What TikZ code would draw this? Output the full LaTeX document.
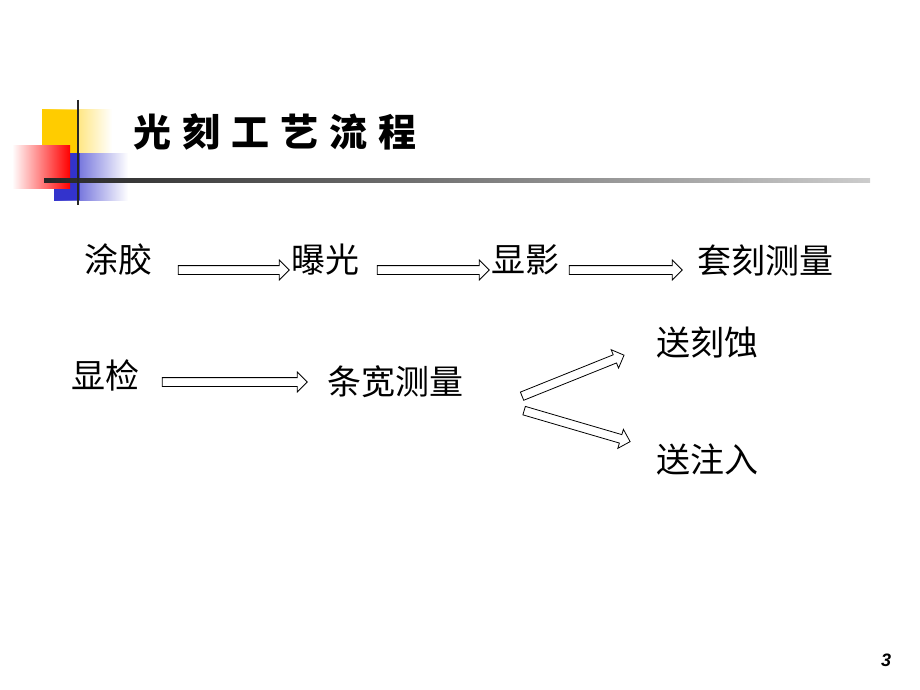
\documentclass[tikz,border=0pt]{standalone}
\usepackage{fontspec}
\setmainfont{Liberation Sans}
\newfontfamily\cjk{Noto Sans CJK SC}
\newfontfamily\cjkb{Noto Sans CJK SC Black}
\usetikzlibrary{shapes.arrows,calc}
\definecolor{gold}{RGB}{255,204,0}
\definecolor{lblue}{RGB}{51,51,204}
\tikzset{
  x=1pt,y=-1pt,
  lbl/.style={font=\cjk\fontsize{34}{38}\selectfont, inner sep=0pt},
  fat/.style={single arrow, draw=black, fill=white, line width=0.8pt, inner xsep=0pt, inner ysep=4pt,
    minimum width=19pt, single arrow head extend=5.5pt, single arrow head indent=0pt},
}
\newcommand{\fatarr}[2]{%
  \path let \p1=(#1), \p2=(#2), \n1={atan2(\y2-\y1,\x2-\x1)}, \n2={veclen(\x2-\x1,\y2-\y1)} in
    node[fat, minimum height=\n2, rotate=\n1] at ($(#1)!0.5!(#2)$) {};}
\begin{document}
\begin{tikzpicture}
\useasboundingbox (0,0) rectangle (920,690);
% logo
\shade[left color=gold, right color=white] (42,110) rectangle (112,153);
\fill[gold] (42,110) rectangle (78,153);
\shade[left color=lblue, right color=white] (54,153) rectangle (128,200);
\fill[lblue] (54,153) rectangle (80,200);
\shade[left color=white, right color=red] (12,145) rectangle (70,188);
\shade[left color=black!85, right color=black!20] (44,178) rectangle (870,182);
\draw[line width=2.5pt, black!85] (78,100) -- (78,205);
\node[font=\cjkb\fontsize{38}{40}\selectfont, anchor=west, inner sep=0pt] (title) at (133,132) {光\kern11pt刻\kern11pt工\kern11pt艺\kern11pt流\kern11pt程};
% texts
\node[lbl] (tj) at (118,260) {涂胶};
\node[lbl] (bg) at (325,260) {曝光};
\node[lbl] (xy) at (525,260) {显影};
\node[lbl] (tk) at (765,260) {套刻测量};
\node[lbl] (xj) at (105,375) {显检};
\node[lbl] (tkcl) at (395,382) {条宽测量};
\node[lbl] (ske) at (707,343) {送刻蚀};
\node[lbl] (szr) at (707,460) {送注入};
% arrow endpoints
\coordinate (a1s) at (176,270); \coordinate (a1e) at (287,270);
\coordinate (a2s) at (375,270); \coordinate (a2e) at (487,270);
\coordinate (a3s) at (567,270); \coordinate (a3e) at (680,270);
\coordinate (a4s) at (160,382); \coordinate (a4e) at (305,382);
\coordinate (a5s) at (520,397); \coordinate (a5e) at (622,356);
\coordinate (a6s) at (522,410); \coordinate (a6e) at (628,441);
\fatarr{a1s}{a1e}\fatarr{a2s}{a2e}\fatarr{a3s}{a3e}\fatarr{a4s}{a4e}\fatarr{a5s}{a5e}\fatarr{a6s}{a6e}
\node[font=\bfseries\itshape\fontsize{18}{20}\selectfont] (pg) at (886,660) {3};
\end{tikzpicture}
\end{document}
